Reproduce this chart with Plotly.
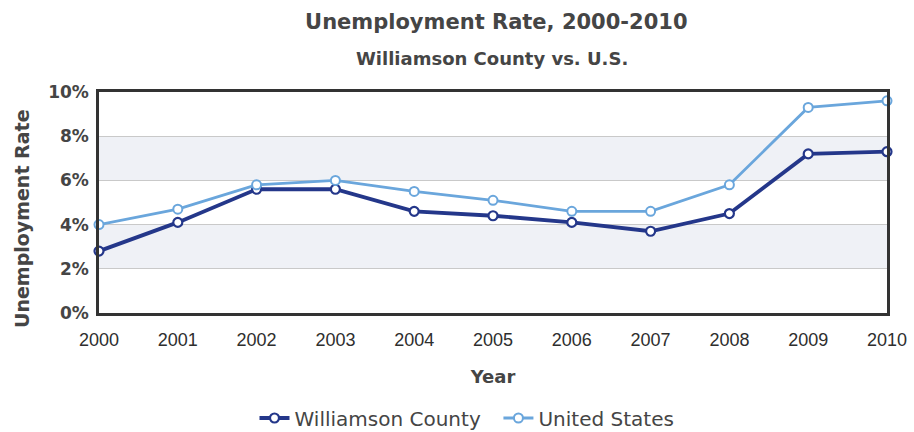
import plotly.graph_objects as go

years = [2000, 2001, 2002, 2003, 2004, 2005, 2006, 2007, 2008, 2009, 2010]
williamson = [2.8, 4.1, 5.6, 5.6, 4.6, 4.4, 4.1, 3.7, 4.5, 7.2, 7.3]
united_states = [4.0, 4.7, 5.8, 6.0, 5.5, 5.1, 4.6, 4.6, 5.8, 9.3, 9.6]
y_ticks = [0, 2, 4, 6, 8, 10]
bands = [(2, 4), (6, 8)]

DARK = "#24378a"
LIGHT = "#6aa6dc"
TXT = "#454545"
BOLD = "DejaVu Sans"

fig = go.Figure()
fig.add_trace(go.Scatter(
    x=years, y=williamson, name="Williamson County  ", mode="lines+markers",
    line=dict(color=DARK, width=3.8),
    marker=dict(symbol="circle", size=9, color="white", line=dict(color=DARK, width=2.2)),
    cliponaxis=False))
fig.add_trace(go.Scatter(
    x=years, y=united_states, name="United States", mode="lines+markers",
    line=dict(color=LIGHT, width=2.8),
    marker=dict(symbol="circle", size=9, color="white", line=dict(color=LIGHT, width=2)),
    cliponaxis=False))

for lo, hi in bands:
    fig.add_shape(type="rect", xref="paper", yref="y", x0=0, x1=1, y0=lo, y1=hi,
                  fillcolor="#eff1f6", line=dict(width=0), layer="below")

fig.update_layout(
    width=914, height=432,
    margin=dict(l=99, r=27, t=92, b=119, autoexpand=False),
    paper_bgcolor="white", plot_bgcolor="white",
    title=dict(text="<b>Unemployment Rate, 2000-2010</b>", x=0.543, xanchor="center",
               y=1 - 22 / 432, yanchor="middle",
               font=dict(family=BOLD, size=21, color=TXT)),
    showlegend=True,
    legend=dict(orientation="h", x=0.467, xanchor="center",
                yref="container", y=1 - 418 / 432, yanchor="middle",
                font=dict(family=BOLD, size=20, color=TXT), itemwidth=30),
    annotations=[
        dict(text="<b>Williamson County vs. U.S.</b>", xref="paper", yref="paper",
             x=0.499, y=1 + 34 / 221, xanchor="center", yanchor="middle",
             showarrow=False, font=dict(family=BOLD, size=18, color=TXT)),
        dict(text="<b>Unemployment Rate</b>", xref="paper", yref="paper",
             x=-77 / 788, y=94 / 221, xanchor="center", yanchor="middle", textangle=-90,
             showarrow=False, font=dict(family=BOLD, size=19, color=TXT)),
    ],
)

fig.update_xaxes(
    range=[2000, 2010], tickmode="array", tickvals=years, ticktext=[str(y) for y in years],
    showgrid=False, zeroline=False, automargin=False,
    showline=True, linecolor="#333333", linewidth=2.5, mirror=True,
    ticks="", ticklabelstandoff=9,
    tickfont=dict(family="Liberation Sans", size=18, color="#2e2e2e"),
    title=dict(text="<b>Year</b>", standoff=22, font=dict(family=BOLD, size=18, color=TXT)))

fig.update_yaxes(
    range=[0, 10], tickmode="array", tickvals=y_ticks, ticktext=[f"<b>{v}%</b>" for v in y_ticks],
    showgrid=True, gridcolor="#c9c9c9", gridwidth=1, zeroline=False, automargin=False,
    showline=True, linecolor="#333333", linewidth=2.5, mirror=True,
    ticks="", ticklabelstandoff=4,
    tickfont=dict(family=BOLD, size=17, color=TXT))

fig.write_html("out.html")
